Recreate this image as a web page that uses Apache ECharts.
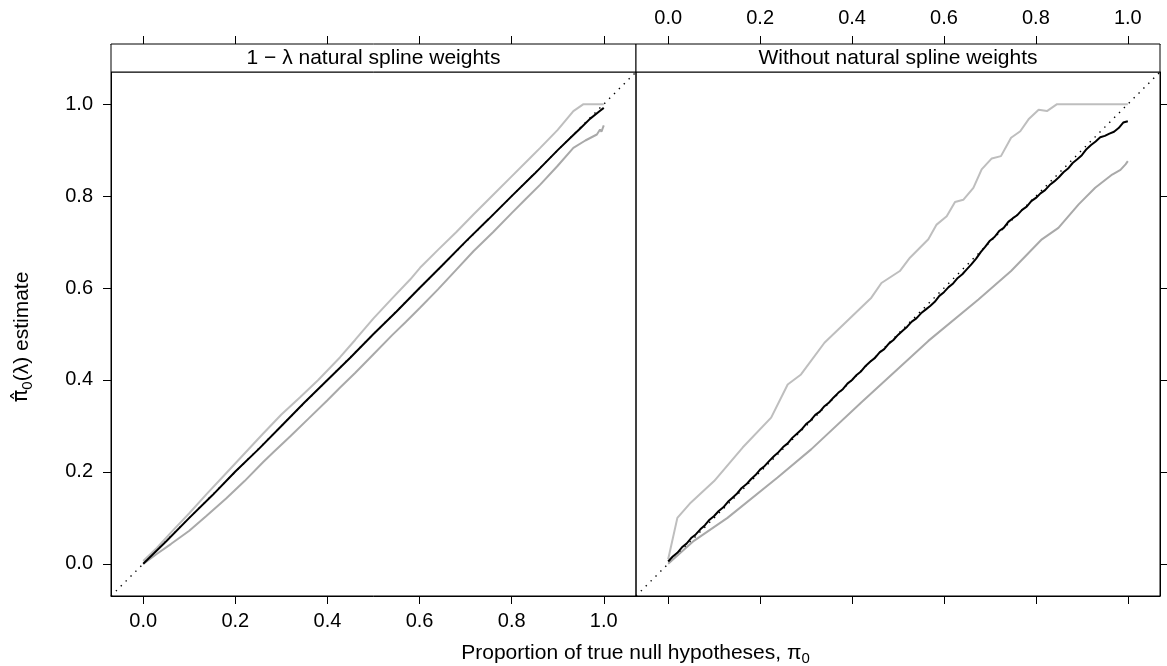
<!DOCTYPE html>
<html>
<head>
<meta charset="utf-8">
<script src="https://cdn.jsdelivr.net/npm/echarts@6/dist/echarts.min.js"></script>
<style>
html,body{margin:0;padding:0;background:#fff;}
#chart{width:1167px;height:666px;}
</style>
</head>
<body>
<div id="chart"></div>
<script>
// ---- data ----
const panelTitles = ['1 \u2212 \u03bb natural spline weights', 'Without natural spline weights'];
const tickValues = [0, 0.2, 0.4, 0.6, 0.8, 1.0];
const axisRange = [-0.07, 1.07];
const refLine = [-0.07, 1.07];

// left panel: 1 - lambda natural spline weights
const leftBlackX = [0, 0.05, 0.1, 0.15, 0.2, 0.25, 0.3, 0.35, 0.4, 0.45, 0.5, 0.55, 0.6, 0.65, 0.7, 0.75, 0.8, 0.85, 0.9, 0.93, 0.95, 0.97, 0.99, 1.0];
const leftBlackY = [0.0, 0.049, 0.1, 0.149, 0.201, 0.249, 0.3, 0.351, 0.4, 0.449, 0.5, 0.549, 0.6, 0.65, 0.701, 0.75, 0.8, 0.849, 0.9, 0.929, 0.948, 0.968, 0.984, 0.992];
const leftUpperX = [0, 0.03, 0.06, 0.1, 0.137, 0.18, 0.22, 0.26, 0.3, 0.34, 0.38, 0.427, 0.46, 0.5, 0.54, 0.58, 0.601, 0.64, 0.68, 0.717, 0.76, 0.8, 0.84, 0.862, 0.9, 0.934, 0.956, 1.0];
const leftUpperY = [0.006, 0.035, 0.068, 0.11, 0.151, 0.197, 0.24, 0.283, 0.325, 0.362, 0.4, 0.449, 0.487, 0.534, 0.577, 0.619, 0.644, 0.683, 0.722, 0.76, 0.803, 0.843, 0.883, 0.905, 0.944, 0.985, 1.0, 1.0];
const leftLowerX = [0, 0.03, 0.06, 0.1, 0.137, 0.18, 0.22, 0.26, 0.282, 0.32, 0.36, 0.4, 0.427, 0.46, 0.5, 0.54, 0.57, 0.601, 0.64, 0.68, 0.717, 0.76, 0.8, 0.83, 0.862, 0.9, 0.934, 0.96, 0.985, 0.992, 0.995, 1.0];
const leftLowerY = [0, 0.022, 0.043, 0.072, 0.104, 0.142, 0.18, 0.221, 0.242, 0.278, 0.317, 0.356, 0.383, 0.415, 0.456, 0.497, 0.526, 0.557, 0.597, 0.64, 0.68, 0.722, 0.763, 0.793, 0.825, 0.866, 0.905, 0.921, 0.934, 0.945, 0.94, 0.954];

// right panel: without natural spline weights
const rightBlackX = [0,0.01,0.02,0.03,0.04,0.05,0.06,0.07,0.08,0.09,0.1,0.11,0.12,0.13,0.14,0.15,0.16,0.17,0.18,0.19,0.2,0.21,0.22,0.23,0.24,0.25,0.26,0.27,0.28,0.29,0.3,0.31,0.32,0.33,0.34,0.35,0.36,0.37,0.38,0.39,0.4,0.41,0.42,0.43,0.44,0.45,0.46,0.47,0.48,0.49,0.5,0.51,0.52,0.53,0.54,0.55,0.56,0.57,0.58,0.59,0.6,0.61,0.62,0.63,0.64,0.65,0.66,0.67,0.68,0.69,0.7,0.71,0.72,0.73,0.74,0.75,0.76,0.77,0.78,0.79,0.8,0.81,0.82,0.83,0.84,0.85,0.86,0.87,0.88,0.89,0.9,0.91,0.92,0.93,0.94,0.95,0.96,0.97,0.98,0.99,1.0];
const rightBlackY = [0.005,0.016,0.024,0.036,0.044,0.056,0.064,0.075,0.084,0.096,0.104,0.115,0.123,0.135,0.144,0.153,0.165,0.173,0.184,0.193,0.205,0.213,0.224,0.234,0.243,0.254,0.262,0.274,0.283,0.292,0.304,0.312,0.324,0.331,0.343,0.351,0.362,0.372,0.38,0.392,0.4,0.411,0.419,0.431,0.44,0.448,0.46,0.467,0.479,0.487,0.498,0.507,0.516,0.527,0.534,0.545,0.553,0.561,0.57,0.583,0.591,0.602,0.61,0.622,0.63,0.641,0.652,0.664,0.678,0.69,0.703,0.711,0.724,0.731,0.744,0.752,0.759,0.77,0.777,0.789,0.796,0.806,0.813,0.824,0.832,0.841,0.852,0.86,0.872,0.88,0.889,0.902,0.911,0.919,0.928,0.931,0.936,0.94,0.948,0.96,0.963];
const rightUpperX = [0, 0.02, 0.049, 0.1, 0.162, 0.224, 0.26, 0.289, 0.34, 0.442, 0.464, 0.504, 0.526, 0.566, 0.584, 0.606, 0.624, 0.642, 0.664, 0.682, 0.704, 0.724, 0.746, 0.766, 0.784, 0.806, 0.824, 0.846, 1.0];
const rightUpperY = [0.01, 0.1, 0.133, 0.18, 0.253, 0.318, 0.39, 0.412, 0.481, 0.579, 0.611, 0.637, 0.666, 0.706, 0.738, 0.756, 0.787, 0.792, 0.818, 0.858, 0.882, 0.887, 0.927, 0.941, 0.967, 0.988, 0.985, 1.0, 1.0];
const rightLowerX = [0, 0.056, 0.129, 0.238, 0.311, 0.42, 0.566, 0.675, 0.746, 0.813, 0.849, 0.893, 0.929, 0.966, 0.984, 0.995, 0.998, 1.0];
const rightLowerY = [0, 0.05, 0.1, 0.188, 0.249, 0.351, 0.485, 0.575, 0.637, 0.706, 0.731, 0.782, 0.818, 0.847, 0.857, 0.869, 0.865, 0.876];

// ---- build ----
function zip(xs, ys) { return xs.map((x, i) => [x, ys[i]]); }
const FONT = '"Liberation Sans", Arial, Helvetica, sans-serif';
const FS = 20;      // tick labels
const FS_T = 21;    // strip and axis titles
const chart = echarts.init(document.getElementById('chart'), null, { renderer: 'canvas' });

const grids = [
  { left: 111, top: 72, width: 525, height: 524 },
  { left: 636, top: 72, width: 524, height: 524 }
];
const strips = [
  { x: 111, w: 525 },
  { x: 636, w: 524 }
];

function xAx(gridIndex, position, showLabel, offset) {
  return {
    type: 'value', gridIndex, position, offset: offset || 0,
    min: axisRange[0], max: axisRange[1],
    axisLine: { show: true, onZero: false, lineStyle: { color: '#000', width: 1 } },
    axisTick: { show: true, inside: false, length: 8, customValues: tickValues, lineStyle: { color: '#000', width: 1 } },
    axisLabel: { show: showLabel, customValues: tickValues, formatter: v => v.toFixed(1), color: '#000', fontSize: FS, fontFamily: FONT, margin: position === 'top' ? 16 : 15 },
    splitLine: { show: false }
  };
}
function yAx(gridIndex, position, showLabel) {
  return {
    type: 'value', gridIndex, position,
    min: axisRange[0], max: axisRange[1],
    axisLine: { show: true, onZero: false, lineStyle: { color: '#000', width: 1 } },
    axisTick: { show: true, inside: false, length: 8, customValues: tickValues, lineStyle: { color: '#000', width: 1 } },
    axisLabel: { show: showLabel, customValues: tickValues, formatter: v => v.toFixed(1), color: '#000', fontSize: FS, fontFamily: FONT, margin: 18 },
    splitLine: { show: false }
  };
}

const xAxes = [
  xAx(0, 'bottom', true, 0),   // 0
  xAx(0, 'top', false, 28),    // 1
  xAx(1, 'bottom', false, 0),  // 2
  xAx(1, 'top', true, 28)      // 3
];
const yAxes = [
  yAx(0, 'left', true),        // 0
  yAx(1, 'right', false)       // 1
];

function refSeries(xi, yi) {
  return { type: 'line', xAxisIndex: xi, yAxisIndex: yi, data: zip(refLine, refLine), showSymbol: false, silent: true,
    lineStyle: { color: '#000', width: 1.4, type: [1.4, 5.5] }, z: 1 };
}
function lineSeries(xi, yi, xs, ys, color, w, z) {
  return { type: 'line', xAxisIndex: xi, yAxisIndex: yi, data: zip(xs, ys), showSymbol: false, silent: true,
    lineStyle: { color, width: w }, z };
}

const series = [
  refSeries(0, 0),
  lineSeries(0, 0, leftUpperX, leftUpperY, '#bebebe', 2, 2),
  lineSeries(0, 0, leftLowerX, leftLowerY, '#a9a9a9', 2, 2),
  lineSeries(0, 0, leftBlackX, leftBlackY, '#000', 2, 3),
  refSeries(2, 1),
  lineSeries(2, 1, rightUpperX, rightUpperY, '#bebebe', 2, 2),
  lineSeries(2, 1, rightLowerX, rightLowerY, '#a9a9a9', 2, 2),
  lineSeries(2, 1, rightBlackX, rightBlackY, '#000', 2, 3)
];

const subStyle = { fontSize: 15, fontFamily: FONT, padding: [11, 0, 0, 0], fill: '#000' };
const graphic = [];
strips.forEach((s, i) => {
  graphic.push({ type: 'rect', shape: { x: s.x, y: 44, width: s.w, height: 28 }, style: { fill: '#fff', stroke: '#000', lineWidth: 1 }, z: 10 });
  graphic.push({ type: 'text', x: s.x + s.w / 2, y: 58, style: { text: panelTitles[i], fill: '#000', font: FS_T + 'px ' + FONT, align: 'center', verticalAlign: 'middle' }, z: 11 });
});
graphic.push({
  type: 'text', x: 635.5, y: 653, z: 11,
  style: {
    text: 'Proportion of true null hypotheses, \u03c0{sub|0}',
    rich: { sub: subStyle },
    fill: '#000', font: FS_T + 'px ' + FONT, align: 'center', verticalAlign: 'middle'
  }
});
graphic.push({
  type: 'text', x: 22, y: 337, rotation: Math.PI / 2, z: 11,
  style: {
    text: '{pi|\u03c0\u0302}{sub|0}(\u03bb) estimate',
    rich: { sub: subStyle, pi: { fontSize: FS_T, fontFamily: '"DejaVu Sans", sans-serif', fill: '#000' } },
    fill: '#000', font: FS_T + 'px ' + FONT, align: 'center', verticalAlign: 'middle'
  }
});

chart.setOption({
  backgroundColor: '#fff',
  animation: false,
  grid: grids.map(g => Object.assign({ show: true, borderColor: '#000', borderWidth: 1, backgroundColor: 'transparent', containLabel: false }, g)),
  xAxis: xAxes,
  yAxis: yAxes,
  series,
  graphic
});
</script>
</body>
</html>
